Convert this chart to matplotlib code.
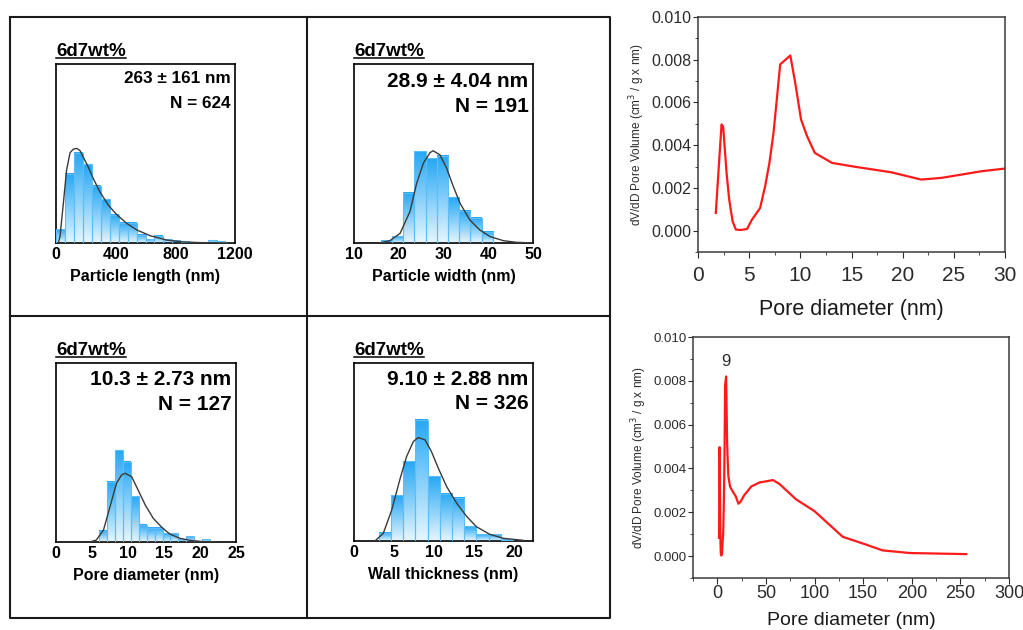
import numpy as np
import matplotlib
matplotlib.use('Agg')
import matplotlib.pyplot as plt
from matplotlib.colors import LinearSegmentedColormap
from matplotlib.lines import Line2D
from matplotlib.ticker import MultipleLocator

plt.rcParams['font.family'] = ['Liberation Sans', 'DejaVu Sans']

# --- histogram data (bin start, counts) and log-normal fit ---
len_bins = [0, 60, 120, 180, 240, 300, 360, 420, 480, 540, 600, 660, 720, 780, 840, 900, 960, 1020, 1080, 1140]
len_counts = [19, 95, 124, 108, 79, 60, 39, 28, 28, 11, 5, 10, 5, 3, 2, 1, 1, 4, 2, 0]
len_fit_x = [15, 27, 49, 71, 94, 116, 139, 161, 183, 215, 249, 295, 351, 407, 474, 541, 631, 743, 855, 967, 1150]
len_fit_y = [0, 9, 54, 100, 124, 129, 130, 127, 118, 105, 89, 70, 52, 39, 27, 18, 10, 4, 1.4, 0.5, 0]

wid_bins = [16, 18.5, 21, 23.5, 26, 28.5, 31, 33.5, 36, 38.5]
wid_counts = [1, 3, 22, 40, 37, 38, 20, 14, 11, 5]
wid_fit_x = [15.8, 18.0, 20.3, 22.5, 24.0, 25.5, 27.0, 27.7, 29.2, 30.7, 32.2, 33.7, 35.9, 38.1, 40.4, 43.4, 46.3, 50]
wid_fit_y = [0, 1.0, 4.2, 13.7, 26.0, 34.8, 39.4, 40.2, 38.4, 32.6, 24.6, 17.3, 10.0, 5.7, 2.8, 1.0, 0.3, 0]

pore_bins = [6.0, 7.1, 8.2, 9.3, 10.4, 11.5, 12.6, 13.7, 14.8, 15.9, 17.0, 18.1, 19.2, 20.3]
pore_counts = [4, 21, 32, 28, 16, 6, 5, 5, 3, 3, 1, 2, 0, 1]
pore_fit_x = [4.7, 5.6, 6.6, 7.5, 8.4, 9.1, 9.6, 10.5, 11.4, 12.4, 13.5, 14.7, 15.8, 17.2, 18.6, 20.5, 22.3]
pore_fit_y = [0, 0.7, 4.2, 12.3, 20.5, 23.4, 24.0, 22.8, 18.2, 12.9, 8.3, 5.1, 2.8, 1.3, 0.6, 0.1, 0]

wall_bins = [3.1, 4.62, 6.14, 7.66, 9.18, 10.7, 12.22, 13.74, 15.26, 16.78, 18.3]
wall_counts = [6, 34, 59, 90, 48, 35, 32, 11, 5, 5, 1]
wall_fit_x = [2.6, 3.65, 4.7, 5.7, 6.55, 7.4, 8.0, 8.85, 9.65, 10.5, 11.55, 12.8, 14.05, 15.25, 16.9, 18.6, 21.1]
wall_fit_y = [0, 5.7, 23.0, 45.3, 62.6, 73.8, 76.7, 75.0, 66.3, 54.0, 40.3, 28.0, 18.1, 10.6, 5.0, 2.0, 0.5]

# --- BJH pore size distribution ---
bjh_d = [1.74, 2.30, 2.46, 2.79, 3.05, 3.38, 3.70, 4.20, 4.80, 5.25, 6.07, 6.56, 6.98, 7.38, 7.70,
         8.03, 9.02, 9.50, 10.07, 10.66, 11.41, 13.1, 15.2, 18.9, 21.8, 23.8, 27.7, 35.0, 43.5,
         57.3, 64.0, 81.0, 100.0, 129.0, 150.0, 170.0, 198.0, 256.0]
bjh_v = [0.00083, 0.00497, 0.00486, 0.0027, 0.00145, 0.00044, 0.00005, 0.00003, 0.00008, 0.0005,
         0.00106, 0.00208, 0.00317, 0.00458, 0.00614, 0.00778, 0.0082, 0.00692, 0.0052, 0.00442,
         0.00364, 0.00317, 0.0030, 0.00273, 0.00239, 0.00247, 0.00278, 0.00318, 0.00336, 0.00347,
         0.00329, 0.00259, 0.00205, 0.00088, 0.00057, 0.00026, 0.00014, 0.00009]

W, H = 1023, 630
fig = plt.figure(figsize=(W / 100, H / 100), dpi=100)


def px_axes(x0, y0, x1, y1):
    return fig.add_axes([x0 / W, 1 - y1 / H, (x1 - x0) / W, (y1 - y0) / H])


grad = LinearSegmentedColormap.from_list('g', ['#e6f6ff', '#86cffa', '#27a8f4'])
gimg = np.linspace(0, 1, 64).reshape(-1, 1)
titles = []


def hist_panel(ax, bins, width, counts, fx, fy, xlim, ylim, xticks, xlabel, stat, ntxt, fs, ty):
    bars = ax.bar(bins, counts, width=width, align='edge', color='none',
                  edgecolor='#5cbdf8', lw=0.8, zorder=3)
    for b in bars:
        h = b.get_height()
        if h > 0:
            x0 = b.get_x()
            ax.imshow(gimg, cmap=grad, aspect='auto', origin='lower',
                      extent=[x0, x0 + width, 0, h], zorder=2)
    ax.plot(fx, fy, color='#3a3a3a', lw=1.0, zorder=4)
    ax.set_xlim(*xlim)
    ax.set_ylim(0, ylim)
    ax.set_yticks([])
    ax.set_xticks(xticks)
    ax.set_xticklabels([str(t) for t in xticks], fontweight='bold', fontsize=11.5)
    ax.tick_params(axis='x', length=0, pad=3)
    ax.set_xlabel(xlabel, fontweight='bold', fontsize=11.5, labelpad=5)
    for s in ax.spines.values():
        s.set_linewidth(1.2)
    ax.text(0.975, ty[0], stat, transform=ax.transAxes, ha='right', va='center',
            fontsize=fs, fontweight='bold')
    ax.text(0.975, ty[1], ntxt, transform=ax.transAxes, ha='right', va='center',
            fontsize=fs, fontweight='bold')
    t = ax.text(0.0, 1.025, '6d7wt%', transform=ax.transAxes, ha='left', va='bottom',
                fontsize=13.5, fontweight='bold')
    titles.append(t)


ax1 = px_axes(56, 64, 235, 243)
hist_panel(ax1, len_bins, 60, len_counts, len_fit_x, len_fit_y, (0, 1200), 246,
           [0, 400, 800, 1200], 'Particle length (nm)', '263 ± 161 nm', 'N = 624', 12.3, (0.92, 0.78))

ax2 = px_axes(354, 64, 533, 243)
hist_panel(ax2, wid_bins, 2.5, wid_counts, wid_fit_x, wid_fit_y, (10, 50), 78,
           [10, 20, 30, 40, 50], 'Particle width (nm)', '28.9 ± 4.04 nm', 'N = 191', 15, (0.905, 0.765))

ax3 = px_axes(56, 363, 236, 542)
hist_panel(ax3, pore_bins, 1.1, pore_counts, pore_fit_x, pore_fit_y, (0, 25), 62.5,
           [0, 5, 10, 15, 20, 25], 'Pore diameter (nm)', '10.3 ± 2.73 nm', 'N = 127', 15, (0.91, 0.77))

ax4 = px_axes(354, 363, 533, 541)
hist_panel(ax4, wall_bins, 1.52, wall_counts, wall_fit_x, wall_fit_y, (0, 22.3), 132,
           [0, 5, 10, 15, 20], 'Wall thickness (nm)', '9.10 ± 2.88 nm', 'N = 326', 15, (0.91, 0.77))

# panel frame lines
def fline(xs, ys):
    fig.add_artist(Line2D([x / W for x in xs], [1 - y / H for y in ys],
                          transform=fig.transFigure, color='#1a1a1a', lw=1.5))

fline([10, 610, 610, 10, 10], [17, 17, 618, 618, 17])
fline([307, 307], [17, 618])
fline([10, 610], [316, 316])

# right side BJH plots
ylab = 'dV/dD Pore Volume (cm$^3$ / g x nm)'
txtc = '#2b2b2b'


def bjh_axes(ax, xlim, xmaj, xmin, xfs, yfs, xlfs, xpad, xlpad):
    ax.plot(bjh_d, bjh_v, color='#ff1a1a', lw=1.6, clip_on=True)
    ax.set_xlim(*xlim)
    ax.set_ylim(-0.001, 0.010)
    ax.xaxis.set_major_locator(MultipleLocator(xmaj))
    ax.xaxis.set_minor_locator(MultipleLocator(xmin))
    ax.yaxis.set_major_locator(MultipleLocator(0.002))
    ax.yaxis.set_minor_locator(MultipleLocator(0.001))
    ax.yaxis.set_major_formatter(plt.FuncFormatter(lambda v, p: f'{v:.3f}'))
    ax.tick_params(axis='x', which='major', direction='out', length=4, pad=xpad,
                   labelsize=xfs, colors=txtc)
    ax.tick_params(axis='x', which='minor', direction='out', length=2.5, colors=txtc)
    ax.tick_params(axis='y', which='major', direction='out', length=3.5, pad=1,
                   labelsize=yfs, colors=txtc)
    ax.tick_params(axis='y', which='minor', direction='out', length=2, colors=txtc)
    for s in ax.spines.values():
        s.set_color('#3a3a3a')
        s.set_linewidth(1.1)
    ax.set_xlabel('Pore diameter (nm)', fontsize=xlfs, color='#1a1a1a', labelpad=xlpad)
    ax.set_ylabel(ylab, fontsize=8.5, color=txtc, labelpad=3)


ax5 = px_axes(698, 17, 1005, 252)
bjh_axes(ax5, (0, 30), 5, 2.5, 15, 11.5, 15.5, 6, 10)

ax6 = px_axes(693, 337, 1009, 578)
bjh_axes(ax6, (-25, 300), 50, 25, 13, 9.5, 14, 1, 7.5)
ax6.text(9, 0.0089, '9', ha='center', va='center', fontsize=12, color=txtc)

# underline the sample titles
fig.canvas.draw()
r = fig.canvas.get_renderer()
for t in titles:
    bb = t.get_window_extent(renderer=r)
    y = bb.y0 + 1.5
    fig.add_artist(Line2D([bb.x0 / W, bb.x1 / W], [y / H, y / H],
                          transform=fig.transFigure, color='black', lw=1.1))

fig.savefig('out.png', dpi=100)
